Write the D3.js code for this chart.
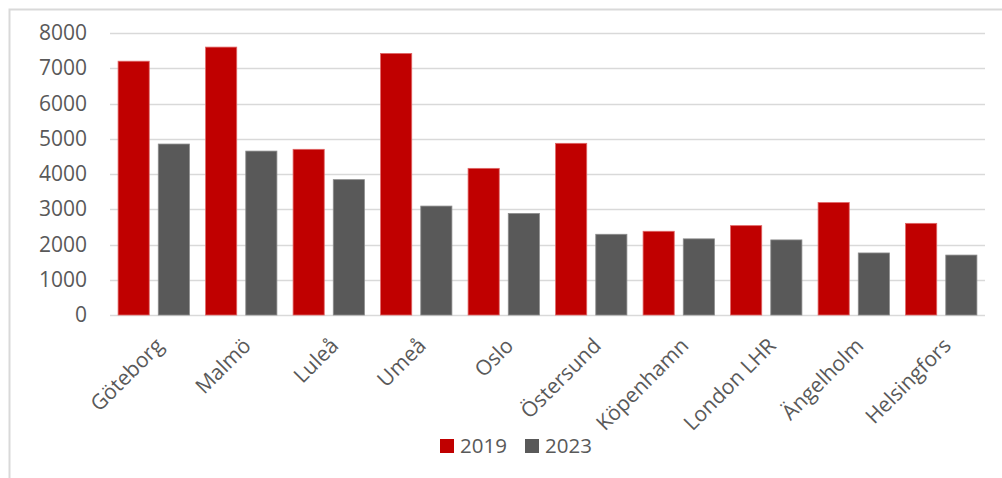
<!DOCTYPE html>
<html>
<head>
<meta charset="utf-8">
<script src="https://cdn.jsdelivr.net/npm/d3@7"></script>
<style>
  html, body { margin: 0; padding: 0; background: #fff; }
  svg { display: block; font-family: "Open Sans", sans-serif; }
</style>
</head>
<body>
<svg id="chart" width="1002" height="478"></svg>
<script>
// Airports and passenger counts per year
const categories = ["Göteborg", "Malmö", "Luleå", "Umeå", "Oslo", "Östersund",
                    "Köpenhamn", "London LHR", "Ängelholm", "Helsingfors"];
const seriesNames = ["2019", "2023"];
const values2019 = [7200, 7600, 4700, 7420, 4160, 4870, 2375, 2535, 3190, 2600];
const values2023 = [4850, 4650, 3840, 3090, 2880, 2290, 2160, 2130, 1760, 1700];
const yTicks = [0, 1000, 2000, 3000, 4000, 5000, 6000, 7000, 8000];
const colors = ["#c00000", "#595959"];
const edgeColors = ["#e06666", "#8c8c8c"];

const svg = d3.select("#chart");
const textColor = "#595959";
const gridColor = "#d9d9d9";

// outer chart frame (only top and left edges fall inside the view)
svg.append("path")
  .attr("d", "M9.5,478 V9.5 H1002")
  .attr("fill", "none")
  .attr("stroke", gridColor)
  .attr("stroke-width", 2);

const plot = { left: 110, right: 985, top: 33, bottom: 315 };

const x = d3.scaleBand()
  .domain(categories)
  .range([plot.left, plot.right])
  .paddingInner(0.185)
  .paddingOuter(0.0925);

const xs = d3.scaleBand()
  .domain(seriesNames)
  .range([0, x.bandwidth()])
  .paddingInner(0.225);

const y = d3.scaleLinear()
  .domain([0, 8000])
  .range([plot.bottom, plot.top]);

// gridlines
svg.append("g")
  .selectAll("line")
  .data(yTicks)
  .join("line")
  .attr("x1", plot.left)
  .attr("x2", plot.right)
  .attr("y1", d => Math.round(y(d)) + 0.5)
  .attr("y2", d => Math.round(y(d)) + 0.5)
  .attr("stroke", gridColor)
  .attr("stroke-width", 1.4);

// y axis labels
const yAxis = d3.axisLeft(y).tickValues(yTicks).tickFormat(d3.format("d"))
  .tickSize(0).tickPadding(0);
const ya = svg.append("g")
  .attr("transform", `translate(${plot.left - 23},0)`)
  .call(yAxis);
ya.select(".domain").remove();
ya.selectAll("text")
  .attr("fill", textColor)
  .style("font-size", "21px")
  .style("font-family", "'Open Sans', sans-serif");

// bars
const rows = categories.map((c, i) => ({ c, vals: [values2019[i], values2023[i]] }));
const groups = svg.append("g")
  .selectAll("g")
  .data(rows)
  .join("g")
  .attr("transform", d => `translate(${x(d.c)},0)`);

groups.selectAll("rect")
  .data(d => d.vals.map((v, k) => ({ v, k })))
  .join("rect")
  .attr("x", d => xs(seriesNames[d.k]))
  .attr("width", xs.bandwidth())
  .attr("y", d => y(d.v))
  .attr("height", d => y(0) - y(d.v))
  .attr("fill", d => colors[d.k])
  .attr("stroke", d => edgeColors[d.k])
  .attr("stroke-width", 0.8);

// x axis labels, rotated
svg.append("g")
  .selectAll("text")
  .data(categories)
  .join("text")
  .attr("transform", d => `translate(${x(d) + x.bandwidth() / 2 + 11},${plot.bottom + 32}) rotate(-45)`)
  .attr("text-anchor", "end")
  .attr("fill", textColor)
  .style("font-size", "21px")
  .text(d => d);

// legend
const legend = svg.append("g");
const legendX = [440, 525];
seriesNames.forEach((s, i) => {
  legend.append("rect")
    .attr("x", legendX[i])
    .attr("y", 439)
    .attr("width", 14)
    .attr("height", 14)
    .attr("fill", colors[i]);
  legend.append("text")
    .attr("x", legendX[i] + 20)
    .attr("y", 453)
    .attr("fill", textColor)
    .style("font-size", "20.5px")
    .text(s);
});
</script>
</body>
</html>
